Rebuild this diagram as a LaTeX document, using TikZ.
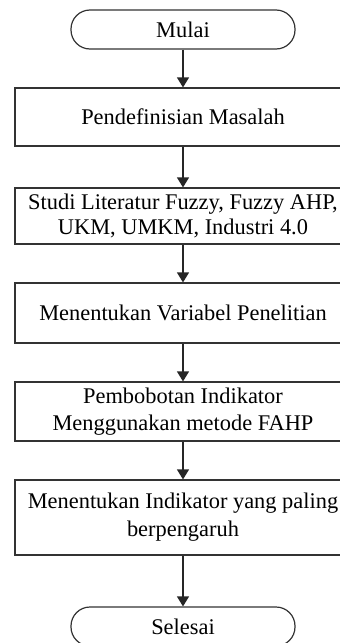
\documentclass[tikz,border=0pt]{standalone}
\usepackage{fontspec}
\setmainfont{Liberation Serif}
\usetikzlibrary{arrows.meta}
\begin{document}
\begin{tikzpicture}[x=1pt,y=-1pt,
  box/.style={draw=black!80, line width=1.2pt, minimum width=336pt, inner sep=0pt, align=center,
    font=\fontsize{22.4}{27}\selectfont},
  term/.style={draw=black!80, line width=1.2pt, minimum width=224pt, minimum height=39pt, rounded corners=19pt,
    inner sep=0pt, font=\fontsize{22.4}{27}\selectfont},
  arr/.style={draw=black!85, line width=1.2pt, -{Triangle[length=10pt,width=12pt]}}]
\path[use as bounding box] (0,0) rectangle (340,643);
\clip (0,0) rectangle (340,643);
\node[term] (start) at (183,29.5) {Mulai};
\node[box, minimum height=58pt] (b1) at (183,117) {Pendefinisian Masalah};
\node[box, minimum height=56pt, font=\fontsize{22.4}{25}\selectfont] (b2) at (183,216) {Studi Literatur Fuzzy, Fuzzy AHP,\\UKM, UMKM, Industri 4.0};
\node[box, minimum height=60pt] (b3) at (183,313) {Menentukan Variabel Penelitian};
\node[box, minimum height=59pt] (b4) at (183,411.5) {Pembobotan Indikator\\Menggunakan metode FAHP};
\node[box, minimum height=75pt, font=\fontsize{22.4}{28}\selectfont] (b5) at (183,517.5) {Menentukan Indikator yang paling\\berpengaruh};
\node[term] (stop) at (183,626.5) {Selesai};
\draw[arr] (start) -- (b1);
\draw[arr] (b1) -- (b2);
\draw[arr] (b2) -- (b3);
\draw[arr] (b3) -- (b4);
\draw[arr] (b4) -- (b5);
\draw[arr] (b5) -- (stop);
\end{tikzpicture}
\end{document}
